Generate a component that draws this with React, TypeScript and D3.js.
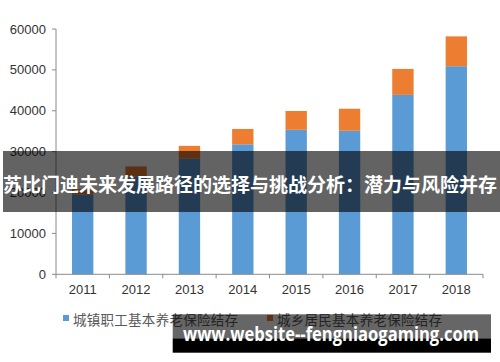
import React from "react";
import * as d3 from "d3";

const years = ["2011", "2012", "2013", "2014", "2015", "2016", "2017", "2018"];
const urbanEmployee = [19497, 23941, 28269, 31800, 35345, 35100, 43885, 50901];
const ruralResident = [1300, 2450, 3150, 3750, 4600, 5400, 6350, 7300];
const yTicks = [0, 10000, 20000, 30000, 40000, 50000, 60000];
const seriesNames = ["城镇职工基本养老保险结存", "城乡居民基本养老保险结存"];
const seriesColors = ["#5B9BD5", "#ED7D31"];
const titleText = "苏比门迪未来发展路径的选择与挑战分析：潜力与风险并存";
const watermarkText = "www.website--fengniaogaming.com";

const W = 500;
const H = 362;
const left = 56;
const right = 483;
const top = 29;
const bottom = 274.3;

export default function App() {
  const x = d3.scaleBand<string>().domain(years).range([left, right]).paddingInner(0.6).paddingOuter(0.3);
  const y = d3.scaleLinear().domain([0, 60000]).range([bottom, top]);
  const stackData = years.map((yr, i) => ({ year: yr, a: urbanEmployee[i], b: ruralResident[i] }));
  const stack = d3.stack<any>().keys(["a", "b"])(stackData);
  const step = x.step();
  const boundaries = d3.range(years.length + 1).map((i) => left + i * step);
  const axisColor = "#8a8a8a";
  const numFont = "'Liberation Sans', Arial, sans-serif";
  const cjkFont = "'Noto Sans CJK SC', sans-serif";

  return (
    <svg width={W} height={H} style={{ position: "absolute", left: 0, top: 0 }}>
      <rect x={0} y={0} width={W} height={H} fill="#fff" />
      {stack.map((layer, li) => (
        <g key={li} fill={seriesColors[li]}>
          {layer.map((d: any, i: number) => (
            <rect
              key={i}
              x={x(years[i])}
              y={y(d[1])}
              width={x.bandwidth()}
              height={y(d[0]) - y(d[1])}
            />
          ))}
        </g>
      ))}
      {/* Y axis */}
      <line x1={left} x2={left} y1={top} y2={bottom} stroke={axisColor} strokeWidth={1} />
      {yTicks.map((t) => (
        <g key={t}>
          <line x1={left - 4} x2={left} y1={y(t)} y2={y(t)} stroke={axisColor} />
          <text
            x={46}
            y={y(t)}
            textAnchor="end"
            dominantBaseline="central"
            fontFamily={numFont}
            fontSize={13}
            fill="#333"
          >
            {t}
          </text>
        </g>
      ))}
      {/* X axis */}
      <line x1={left} x2={right} y1={bottom} y2={bottom} stroke={axisColor} strokeWidth={1} />
      {boundaries.map((bx, i) => (
        <line key={i} x1={bx} x2={bx} y1={bottom} y2={bottom + 4} stroke={axisColor} />
      ))}
      {years.map((yr) => (
        <text
          key={yr}
          x={(x(yr) as number) + x.bandwidth() / 2}
          y={289.5}
          textAnchor="middle"
          dominantBaseline="central"
          fontFamily={numFont}
          fontSize={13}
          fill="#333"
        >
          {yr}
        </text>
      ))}
      {/* Legend */}
      {seriesNames.map((name, i) => {
        const lx = i === 0 ? 63 : 267;
        return (
          <g key={name}>
            <rect x={lx} y={315} width={6} height={6} fill={seriesColors[i]} />
            <text
              x={lx + 10}
              y={318.5}
              dominantBaseline="central"
              fontFamily={cjkFont}
              fontSize={13.5}
              textLength={165}
              fill="#595959"
            >
              {name}
            </text>
          </g>
        );
      })}
      {/* Title banner */}
      <rect x={3} y={151} width={497} height={61} fill="#000" fillOpacity={0.61} />
      <text
        x={3}
        y={183}
        dominantBaseline="central"
        fontFamily={cjkFont}
        fontWeight="bold"
        fontSize={19}
        textLength={494}
        lengthAdjust="spacingAndGlyphs"
        fill="#fff"
      >
        {titleText}
      </text>
      {/* Watermark */}
      <rect x={172.7} y={314.3} width={318.3} height={24} fill="#000" fillOpacity={0.6} />
      <rect x={172.7} y={338.3} width={318.3} height={14.4} fill="#000" />
      <text
        x={183}
        y={340.5}
        fontFamily={"'Open Sans', 'DejaVu Sans', sans-serif"}
        fontWeight="bold"
        fontSize={19}
        textLength={296}
        lengthAdjust="spacingAndGlyphs"
        fill="#fff"
      >
        {watermarkText}
      </text>
    </svg>
  );
}
